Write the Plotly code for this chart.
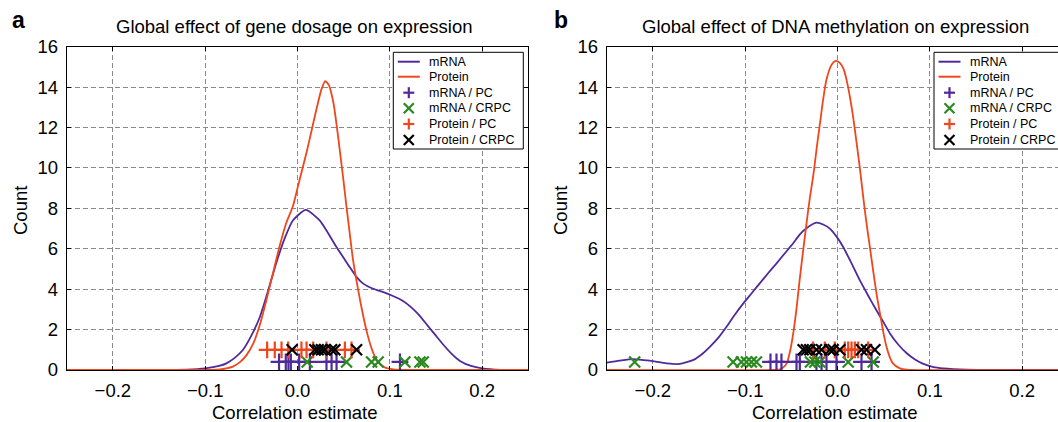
import plotly.graph_objects as go

W, H = 1058, 422

# ---------------- data ----------------
# Panel a: gene dosage
gd_mrna_x = [-0.25, -0.15, -0.12, -0.1, -0.085, -0.077, -0.068, -0.059, -0.05, -0.041, -0.032,
             -0.023, -0.014, -0.005, 0.009, 0.024, 0.042, 0.055, 0.064, 0.072, 0.082, 0.093,
             0.104, 0.113, 0.122, 0.131, 0.14, 0.149, 0.158, 0.167, 0.176, 0.188, 0.2, 0.22, 0.25]
gd_mrna_y = [0.0, 0.0, 0.02, 0.08, 0.2, 0.33, 0.6, 1.0, 1.7, 2.6, 3.9,
             5.3, 6.5, 7.4, 7.92, 7.4, 6.1, 5.2, 4.6, 4.25, 4.02, 3.85,
             3.65, 3.45, 3.15, 2.75, 2.25, 1.75, 1.25, 0.8, 0.45, 0.2, 0.08, 0.01, 0.0]
gd_prot_x = [-0.25, -0.1, -0.084, -0.077, -0.07, -0.062, -0.055, -0.048, -0.041, -0.034, -0.026,
             -0.019, -0.012, -0.005, 0.0, 0.005, 0.01, 0.016, 0.021, 0.026, 0.03, 0.034, 0.039,
             0.043, 0.046, 0.05, 0.053, 0.057, 0.06, 0.064, 0.068, 0.072, 0.075, 0.08, 0.084,
             0.09, 0.095, 0.104, 0.12, 0.25]
gd_prot_y = [0.0, 0.0, 0.03, 0.08, 0.17, 0.4, 0.75, 1.3, 2.2, 3.4, 4.9,
             6.2, 7.3, 8.1, 9.0, 9.9, 10.8, 12.0, 13.0, 13.9, 14.3, 14.1, 13.2,
             11.9, 10.8, 9.3, 8.1, 6.6, 5.5, 4.4, 3.4, 2.5, 1.9, 1.1, 0.65,
             0.28, 0.12, 0.03, 0.0, 0.0]
gd_mrna_pc = [-0.020, -0.0127, -0.0098, -0.0072, 0.0018, 0.0134, 0.0314, 0.0369, 0.0423, 0.111]
gd_mrna_crpc = [0.0105, 0.0531, 0.0802, 0.0874, 0.1163, 0.1326, 0.1362]
gd_prot_pc = [-0.0329, -0.0246, -0.0173, -0.0101, 0.0043, 0.0098, 0.017, 0.0314, 0.0513, 0.0585]
gd_prot_crpc = [-0.0058, 0.0188, 0.0224, 0.026, 0.0296, 0.0369, 0.0405, 0.064]

# Panel b: DNA methylation
dm_mrna_x = [-0.25, -0.236, -0.2215, -0.2034, -0.185, -0.171, -0.156, -0.147, -0.138, -0.129,
             -0.12, -0.111, -0.102, -0.093, -0.084, -0.075, -0.066, -0.057, -0.048, -0.041,
             -0.034, -0.0228, -0.0155, -0.0083, -0.001, 0.006, 0.015, 0.024, 0.033, 0.042,
             0.05, 0.057, 0.066, 0.075, 0.084, 0.093, 0.104, 0.1145, 0.14, 0.17, 0.25]
dm_mrna_y = [0.36, 0.46, 0.54, 0.46, 0.33, 0.3, 0.5, 0.78, 1.16, 1.6,
             2.15, 2.75, 3.3, 3.8, 4.3, 4.8, 5.28, 5.78, 6.27, 6.7,
             7.0, 7.29, 7.2, 7.0, 6.6, 6.1, 5.3, 4.46, 3.7, 2.97,
             2.35, 1.8, 1.25, 0.83, 0.52, 0.3, 0.14, 0.08, 0.02, 0.0, 0.0]
dm_prot_x = [-0.25, -0.07, -0.0625, -0.059, -0.055, -0.0515, -0.048, -0.0445, -0.041, -0.0375,
             -0.034, -0.03, -0.026, -0.0225, -0.019, -0.0155, -0.012, -0.0065, -0.002, 0.0025,
             0.0065, 0.0098, 0.0135, 0.017, 0.0205, 0.024, 0.0275, 0.031, 0.035, 0.039, 0.0425,
             0.046, 0.0495, 0.053, 0.0565, 0.06, 0.0676, 0.075, 0.25]
dm_prot_y = [0.0, 0.0, 0.03, 0.12, 0.33, 0.9, 1.8, 3.0, 4.46, 5.8,
             7.1, 8.5, 9.7, 11.0, 12.2, 13.4, 14.36, 15.1, 15.3, 15.2,
             14.9, 14.36, 13.5, 12.5, 11.3, 10.07, 8.7, 7.4, 6.1, 4.8, 3.7,
             2.8, 1.9, 1.16, 0.65, 0.33, 0.08, 0.02, 0.0]
dm_mrna_pc = [-0.0726, -0.0661, -0.0607, -0.0444, -0.0408, -0.0228, -0.0173, -0.0119, -0.0011, 0.026, 0.0369]
dm_mrna_crpc = [-0.2197, -0.1131, -0.1041, -0.0986, -0.0932, -0.0878, -0.0293, -0.0246, -0.0192, 0.0116, 0.0387]
dm_prot_pc = [-0.0264, -0.0137, -0.0029, 0.0079, 0.0116, 0.0152, 0.0188, 0.0224, 0.0332]
dm_prot_crpc = [-0.0372, -0.0336, -0.03, -0.0228, -0.0173, -0.0083, -0.0047, 0.0025, 0.026, 0.0314, 0.0405]

MRNA_LEVEL = 0.4
PROTEIN_LEVEL = 1.0

x_ticks = [-0.2, -0.1, 0.0, 0.1, 0.2]
y_ticks = [0, 2, 4, 6, 8, 10, 12, 14, 16]
titles = ["Global effect of gene dosage on expression", "Global effect of DNA methylation on expression"]
panel_letters = ["a", "b"]
legend_labels = ["mRNA", "Protein", "mRNA / PC", "mRNA / CRPC", "Protein / PC", "Protein / CRPC"]

# ---------------- style ----------------
PURPLE = "#4f2a9c"
ORANGE = "#f0461c"
GREEN = "#2a8a1e"
BLACK = "#000000"
FONT = "Liberation Sans, Arial, Helvetica, sans-serif"
TXT = 18.5


def px(x):
    return x / W


def py(y):
    return 1 - y / H


fig = go.Figure()

panels = [
    ("x", "y", gd_mrna_x, gd_mrna_y, gd_prot_x, gd_prot_y, gd_mrna_pc, gd_mrna_crpc, gd_prot_pc, gd_prot_crpc),
    ("x2", "y2", dm_mrna_x, dm_mrna_y, dm_prot_x, dm_prot_y, dm_mrna_pc, dm_mrna_crpc, dm_prot_pc, dm_prot_crpc),
]
for xa, ya, mx, my, prx, pry, mpc, mcrpc, ppc, pcrpc in panels:
    fig.add_trace(go.Scatter(x=mx, y=my, mode="lines", xaxis=xa, yaxis=ya,
                             line=dict(color=PURPLE, width=1.8, shape="spline", smoothing=0.6),
                             name="mRNA", showlegend=False))
    fig.add_trace(go.Scatter(x=prx, y=pry, mode="lines", xaxis=xa, yaxis=ya,
                             line=dict(color=ORANGE, width=1.8, shape="spline", smoothing=0.6),
                             name="Protein", showlegend=False))
    fig.add_trace(go.Scatter(x=mpc, y=[MRNA_LEVEL] * len(mpc), mode="markers", xaxis=xa, yaxis=ya,
                             marker=dict(symbol="cross-thin", size=12, line=dict(color=PURPLE, width=2.2)),
                             name="mRNA / PC", showlegend=False))
    fig.add_trace(go.Scatter(x=mcrpc, y=[MRNA_LEVEL] * len(mcrpc), mode="markers", xaxis=xa, yaxis=ya,
                             marker=dict(symbol="x-thin", size=11, line=dict(color=GREEN, width=2.2)),
                             name="mRNA / CRPC", showlegend=False))
    fig.add_trace(go.Scatter(x=ppc, y=[PROTEIN_LEVEL] * len(ppc), mode="markers", xaxis=xa, yaxis=ya,
                             marker=dict(symbol="cross-thin", size=12, line=dict(color=ORANGE, width=2.2)),
                             name="Protein / PC", showlegend=False))
    fig.add_trace(go.Scatter(x=pcrpc, y=[PROTEIN_LEVEL] * len(pcrpc), mode="markers", xaxis=xa, yaxis=ya,
                             marker=dict(symbol="x-thin", size=11, line=dict(color=BLACK, width=2.2)),
                             name="Protein / CRPC", showlegend=False))

# plot-area geometry (pixels)
A_L, A_R = 66.7, 528.3
B_L, B_R = 606.7, 1058.0
P_T, P_B = 46.7, 370.0
# visible x range of panel b (cut by the image edge)
b_xmax = -0.25 + (B_R - B_L) / ((A_R - A_L) / 0.5)

axis_common = dict(showline=True, linecolor="black", linewidth=1, ticks="inside", ticklen=4,
                   tickcolor="black", showgrid=True, gridcolor="#8a8a8a", gridwidth=1,
                   griddash="5px,3px", zeroline=False, automargin=False,
                   tickfont=dict(family=FONT, size=TXT, color="black"))

fig.update_layout(
    template="none",
    width=W, height=H, margin=dict(l=0, r=0, t=0, b=0, pad=0, autoexpand=False),
    paper_bgcolor="white", plot_bgcolor="white", showlegend=False,
    xaxis=dict(domain=[px(A_L), px(A_R)], range=[-0.25, 0.25], tickvals=x_ticks, tickformat=".1f",
               mirror="ticks", anchor="y", ticklabelstandoff=4, **axis_common),
    yaxis=dict(domain=[py(P_B), py(P_T)], range=[0, 16], tickvals=y_ticks, mirror="ticks",
               anchor="x", ticklabelstandoff=4, **axis_common),
    xaxis2=dict(domain=[px(B_L), 1.0], range=[-0.25, b_xmax], tickvals=x_ticks, tickformat=".1f",
                mirror="ticks", anchor="y2", ticklabelstandoff=4, **axis_common),
    yaxis2=dict(domain=[py(P_B), py(P_T)], range=[0, 16], tickvals=y_ticks, mirror=False,
                anchor="x2", ticklabelstandoff=4, **axis_common),
)

annotations = []
shapes = []
title_cx = [(A_L + A_R) / 2 - 3, 835]
letter_x = [18, 561]
count_x = [20, 560]
for i in range(2):
    annotations.append(dict(text=titles[i], x=px(title_cx[i]), y=py(27), xref="paper", yref="paper",
                            xanchor="center", yanchor="middle", showarrow=False,
                            font=dict(family=FONT, size=TXT, color="black")))
    annotations.append(dict(text="<b>%s</b>" % panel_letters[i], x=px(letter_x[i]), y=py(20),
                            xref="paper", yref="paper", xanchor="center", yanchor="middle",
                            showarrow=False, font=dict(family=FONT, size=23, color="black")))
    annotations.append(dict(text="Count", x=px(count_x[i]), y=py(211), xref="paper", yref="paper",
                            xanchor="center", yanchor="middle", textangle=-90, showarrow=False,
                            font=dict(family=FONT, size=TXT, color="black")))
    annotations.append(dict(text="Correlation estimate", x=px(title_cx[i]), y=py(412.5), xref="paper",
                            yref="paper", xanchor="center", yanchor="middle", showarrow=False,
                            font=dict(family=FONT, size=TXT, color="black")))

# manual legends
legend_specs = [(393.3, 523.3), (934.0, 1075.0)]
row_y = [61.7, 76.7, 92.7, 108.3, 124.0, 140.0]
kinds = [("line", PURPLE), ("line", ORANGE), ("plus", PURPLE), ("x", GREEN), ("plus", ORANGE), ("x", BLACK)]
for lx0, lx1 in legend_specs:
    shapes.append(dict(type="rect", xref="paper", yref="paper", x0=px(lx0), x1=px(lx1),
                       y0=py(149), y1=py(52.3), line=dict(color="black", width=1), fillcolor="white",
                       layer="above"))
    for (kind, col), yy, lab in zip(kinds, row_y, legend_labels):
        cx = lx0 + 15.5
        if kind == "line":
            shapes.append(dict(type="line", xref="paper", yref="paper", x0=px(lx0 + 4.5), x1=px(lx0 + 26.5),
                               y0=py(yy), y1=py(yy), line=dict(color=col, width=2), layer="above"))
        elif kind == "plus":
            shapes.append(dict(type="line", xref="paper", yref="paper", x0=px(cx - 5.5), x1=px(cx + 5.5),
                               y0=py(yy), y1=py(yy), line=dict(color=col, width=2.2), layer="above"))
            shapes.append(dict(type="line", xref="paper", yref="paper", x0=px(cx), x1=px(cx),
                               y0=py(yy - 5.5), y1=py(yy + 5.5), line=dict(color=col, width=2.2), layer="above"))
        else:
            shapes.append(dict(type="line", xref="paper", yref="paper", x0=px(cx - 5), x1=px(cx + 5),
                               y0=py(yy - 5), y1=py(yy + 5), line=dict(color=col, width=2.2), layer="above"))
            shapes.append(dict(type="line", xref="paper", yref="paper", x0=px(cx - 5), x1=px(cx + 5),
                               y0=py(yy + 5), y1=py(yy - 5), line=dict(color=col, width=2.2), layer="above"))
        annotations.append(dict(text=lab, x=px(lx0 + 33.5), y=py(yy), xref="paper", yref="paper",
                                xanchor="left", yanchor="middle", showarrow=False,
                                font=dict(family=FONT, size=12.5, color="black")))

fig.update_layout(annotations=annotations, shapes=shapes)
# remove the browser's default 8px page margin so the figure sits at the window's corner
fig.write_html("out.html", config={"displayModeBar": False},
               post_script="document.body.style.margin='0px';")
